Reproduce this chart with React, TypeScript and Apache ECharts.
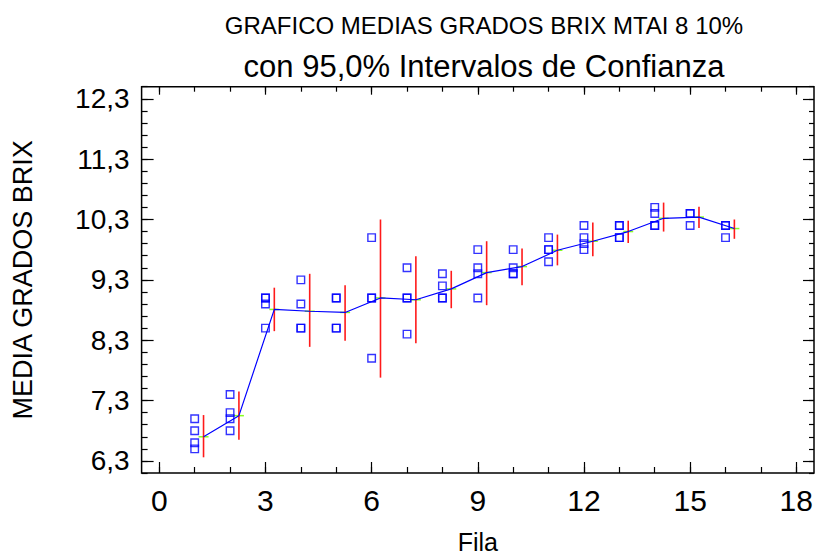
import React, { useEffect, useRef } from "react";
import * as echarts from "echarts";

// Fila (row) numbers and the individual Brix readings taken in each row
const filas = [1, 2, 3, 4, 5, 6, 7, 8, 9, 10, 11, 12, 13, 14, 15, 16];
const lecturas: number[][] = [
  [7.0, 6.8, 6.6, 6.5],
  [7.4, 7.1, 7.0, 6.8],
  [9.0, 9.0, 8.9, 8.5],
  [9.3, 8.9, 8.5, 8.5],
  [9.0, 9.0, 8.5, 8.5],
  [10.0, 9.0, 9.0, 8.0],
  [9.5, 9.0, 9.0, 8.4],
  [9.4, 9.2, 9.0, 9.0],
  [9.8, 9.5, 9.4, 9.0],
  [9.8, 9.5, 9.4, 9.4],
  [10.0, 9.8, 9.8, 9.6],
  [10.2, 10.0, 9.9, 9.8],
  [10.2, 10.2, 10.0, 10.0],
  [10.5, 10.4, 10.2, 10.2],
  [10.4, 10.4, 10.2],
  [10.2, 10.2, 10.0],
];

// Row means and their 95% confidence limits
const medias = [6.7, 7.05, 8.81, 8.78, 8.76, 9.0, 8.97, 9.15, 9.42, 9.52, 9.79, 9.94, 10.1, 10.32, 10.34, 10.15];
const limiteInferior = [6.36, 6.65, 8.45, 8.19, 8.29, 7.68, 8.25, 8.83, 8.88, 9.21, 9.54, 9.69, 9.91, 10.1, 10.16, 9.98];
const limiteSuperior = [7.06, 7.45, 9.17, 9.4, 9.21, 10.3, 9.69, 9.45, 9.94, 9.82, 10.05, 10.25, 10.28, 10.58, 10.51, 10.3];

// Axis ticks
const xMajorTicks = [0, 3, 6, 9, 12, 15, 18];
const xMinorTicks = [0, 1, 2, 3, 4, 5, 6, 7, 8, 9, 10, 11, 12, 13, 14, 15, 16, 17, 18];
const yMajorTicks = [6.3, 7.3, 8.3, 9.3, 10.3, 11.3, 12.3];
const yMinorTicks = Array.from({ length: 33 }, (_, k) => Math.round((6.1 + 0.2 * k) * 10) / 10);

// Means and intervals are drawn a little to the right of the readings
const DESPLAZAMIENTO = 0.25;

const FONT = "'Liberation Sans', Arial, Helvetica, sans-serif";
const X_MIN = -0.5;
const X_MAX = 18.5;
const Y_MIN = 6.1;
const Y_MAX = 12.5;

function tickAxis(
  kind: "x" | "y",
  position: string,
  values: number[],
  length: number,
  withLabels: boolean
) {
  return {
    type: "value",
    position,
    min: kind === "x" ? X_MIN : Y_MIN,
    max: kind === "x" ? X_MAX : Y_MAX,
    axisLine: { show: false, onZero: false },
    splitLine: { show: false },
    axisTick: {
      show: true,
      inside: true,
      length,
      customValues: values,
      lineStyle: { color: "#000", width: 1.2 },
    },
    axisLabel: withLabels
      ? {
          show: true,
          customValues: values,
          color: "#000",
          fontFamily: FONT,
          fontSize: kind === "x" ? 30 : 28,
          margin: 12,
          formatter: (v: number) => (kind === "x" ? String(v) : v.toFixed(1).replace(".", ",")),
        }
      : { show: false },
  };
}

export default function App() {
  const ref = useRef<HTMLDivElement>(null);

  useEffect(() => {
    if (!ref.current) return;
    const chart = echarts.init(ref.current, undefined, { renderer: "svg" });

    const puntos = filas.flatMap((f, i) => lecturas[i].map((v) => [f, v]));
    const lineaMedias = filas.map((f, i) => [f + DESPLAZAMIENTO, medias[i]]);
    const intervalos = filas.map((f, i) => [
      f + DESPLAZAMIENTO,
      limiteInferior[i],
      limiteSuperior[i],
      medias[i],
    ]);

    const xMain: any = tickAxis("x", "bottom", xMajorTicks, 11, true);
    xMain.name = "Fila";
    xMain.nameLocation = "middle";
    xMain.nameGap = 56;
    xMain.nameTextStyle = { color: "#000", fontFamily: FONT, fontSize: 25 };

    const yMain: any = tickAxis("y", "left", yMajorTicks, 12, true);
    yMain.name = "MEDIA GRADOS BRIX";
    yMain.nameLocation = "middle";
    yMain.nameGap = 105;
    yMain.nameTextStyle = { color: "#000", fontFamily: FONT, fontSize: 27 };

    chart.setOption({
      animation: false,
      backgroundColor: "#fff",
      title: [
        {
          text: "GRAFICO MEDIAS GRADOS BRIX MTAI 8 10%",
          left: 479,
          top: 8,
          textAlign: "center",
          textStyle: { color: "#000", fontFamily: FONT, fontSize: 24, fontWeight: "normal" },
        },
        {
          text: "con 95,0% Intervalos de Confianza",
          left: 479,
          top: 46,
          textAlign: "center",
          textStyle: { color: "#000", fontFamily: FONT, fontSize: 31, fontWeight: "normal" },
        },
      ],
      grid: {
        left: 141.6,
        right: 4,
        top: 86.7,
        bottom: 84.7,
        show: true,
        borderColor: "#000",
        borderWidth: 1.5,
        backgroundColor: "transparent",
      },
      xAxis: [
        xMain,
        tickAxis("x", "bottom", xMinorTicks, 6, false),
        tickAxis("x", "top", xMajorTicks, 8, false),
        tickAxis("x", "top", xMinorTicks, 5, false),
      ],
      yAxis: [
        yMain,
        tickAxis("y", "left", yMinorTicks, 6, false),
        tickAxis("y", "right", yMajorTicks, 11, false),
        tickAxis("y", "right", yMinorTicks, 5, false),
      ],
      series: [
        {
          type: "custom",
          xAxisIndex: 0,
          yAxisIndex: 0,
          z: 2,
          encode: { x: 0, y: [1, 2, 3] },
          data: intervalos,
          renderItem: (_params: any, api: any) => {
            const x = api.value(0);
            const pLo = api.coord([x, api.value(1)]);
            const pHi = api.coord([x, api.value(2)]);
            const pM = api.coord([x, api.value(3)]);
            return {
              type: "group",
              children: [
                {
                  type: "line",
                  shape: { x1: pM[0] - 5, y1: pM[1], x2: pM[0] + 5, y2: pM[1] },
                  style: { stroke: "#88ff22", lineWidth: 1.5 },
                },
                {
                  type: "line",
                  shape: { x1: pLo[0], y1: pLo[1], x2: pHi[0], y2: pHi[1] },
                  style: { stroke: "#ff1a1a", lineWidth: 1.6 },
                },
              ],
            };
          },
        },
        {
          type: "line",
          xAxisIndex: 0,
          yAxisIndex: 0,
          z: 3,
          data: lineaMedias,
          showSymbol: false,
          symbol: "none",
          lineStyle: { color: "#0000ff", width: 1.2 },
        },
        {
          type: "scatter",
          xAxisIndex: 0,
          yAxisIndex: 0,
          z: 4,
          data: puntos,
          symbol: "rect",
          symbolSize: 7.5,
          itemStyle: { color: "rgba(0,0,0,0)", borderColor: "#0000ff", borderWidth: 1.4 },
        },
      ],
    });

    return () => chart.dispose();
  }, []);

  return (
    <div
      ref={ref}
      style={{ position: "absolute", left: 0, top: 0, width: 818, height: 559 }}
    />
  );
}
